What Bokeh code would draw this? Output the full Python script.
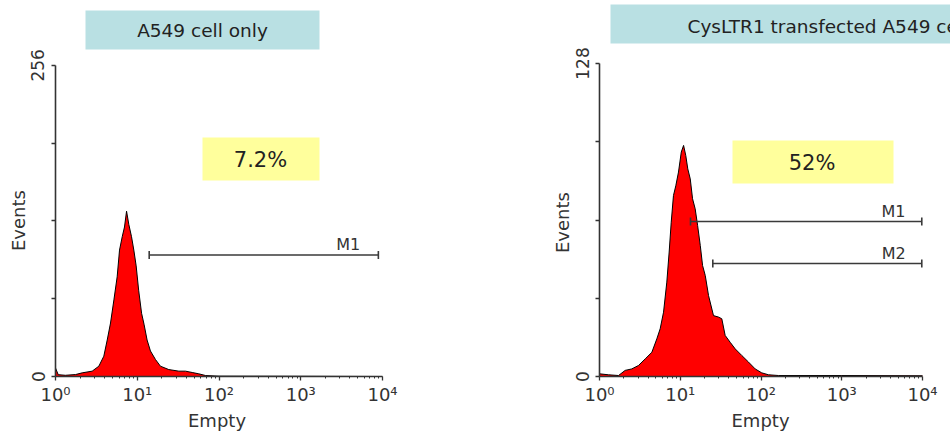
import numpy as np
from bokeh.plotting import figure
from bokeh.layouts import row
from bokeh.models import Range1d, FixedTicker, BoxAnnotation, Label, Title
from bokeh.core.properties import value
from bokeh.embed import file_html
from bokeh.resources import INLINE

# ---------------- data ----------------
titles = ["A549 cell only", "CysLTR1 transfected A549 cell"]
percent_labels = ["7.2%", "52%"]
y_max = [256, 128]
x_axis_title = "Empty"
y_axis_title = "Events"

x_tick_values = [1, 10, 100, 1000, 10000]
x_tick_labels = ["10\u2070", "10\u00b9", "10\u00b2", "10\u00b3", "10\u2074"]
x_minor_ticks = [m * d for d in (1, 10, 100, 1000) for m in range(2, 10)]

left_intensity = [1.0, 1.08, 1.32, 1.76, 2.12, 2.81, 3.39, 3.90, 4.29, 4.71,
                  5.18, 5.68, 6.07, 6.55, 6.98, 7.40, 7.89, 8.51, 9.08, 9.70,
                  10.4, 11.3, 12.1, 13.2, 14.5, 16.7, 19.2, 24.3, 32.3, 38.9,
                  47.0, 56.6, 68.4, 100, 1000, 10000]
left_counts = [7, 1.5, 1, 1.6, 3, 4.4, 8.5, 16.7, 30, 44,
               63, 82, 104, 115, 123, 136, 125, 115, 104, 91,
               71, 52, 43, 30, 21, 14, 8.5, 5.7, 4.4, 4.4,
               3.3, 2.2, 0.8, 0.3, 0.2, 0]

right_intensity = [1.0, 1.29, 1.72, 2.08, 2.51, 3.04, 3.68, 4.45, 5.13, 5.64,
                   6.21, 6.82, 7.29, 7.73, 8.24, 8.81, 9.51, 10.3, 11.0, 11.7,
                   12.4, 13.3, 14.2, 15.3, 16.4, 17.7, 18.9, 20.4, 22.4, 25.8,
                   29.8, 32.7, 36.0, 41.5, 47.9, 57.8, 70.0, 84.7, 102, 124,
                   165, 1000, 10000]
right_counts = [1.1, 0.7, 0.4, 2.5, 3.1, 4.5, 7.2, 9.9, 15.4, 19.5,
                26.3, 38.6, 50.9, 63.1, 74, 78, 83.6, 91.8, 94.5, 90.4,
                84.9, 80.8, 72.7, 68.6, 61.8, 53.6, 45.4, 41.3, 33.1, 24.9,
                24.3, 23.6, 16.8, 14.0, 11.3, 8.6, 5.9, 3.1, 1.5, 0.7,
                0.4, 0.4, 0.3]

left_gate_names = ["M1"]
left_gate_start = [14]
left_gate_end = [8900]
left_gate_level = [100]
left_gate_label_x = [3800]

right_gate_names = ["M1", "M2"]
right_gate_start = [13.4, 25.3]
right_gate_end = [9800, 9800]
right_gate_level = [63.4, 46.2]
right_gate_label_x = [4370, 4400]

FONT = "DejaVu Sans"
AX = "#333333"


def panel(width, border_left, border_bottom, x_end, y_end, ymax,
          intensity, counts, g_names, g_start, g_end, g_level, g_lx,
          title, pct, title_box, pct_box, title_pos, title_align, pct_pos,
          events_offset, empty_offset):
    p = figure(width=width, height=437, x_axis_type="log",
               x_range=Range1d(1, x_end), y_range=Range1d(0, y_end),
               output_backend="svg", toolbar_location=None,
               min_border_left=border_left, min_border_right=0,
               min_border_top=0, min_border_bottom=border_bottom)
    p.outline_line_color = None
    p.grid.visible = False
    p.background_fill_color = "white"
    p.border_fill_color = "white"

    # histogram
    p.varea(x=intensity, y1=0, y2=counts, fill_color="#ff0000")
    p.line(x=intensity, y=counts, line_color="black", line_width=1)

    # gates
    p.segment(x0=g_start, y0=g_level, x1=g_end, y1=g_level,
              line_color="#3a3a3a", line_width=1.6)
    p.scatter(x=g_start + g_end, y=g_level + g_level, marker="dash",
              angle=np.pi / 2, size=8, line_color="#3a3a3a", line_width=1.6)
    p.text(x=g_lx, y=g_level, text=g_names, text_font=value(FONT),
           text_font_size=value("16px"), text_color="#333333",
           text_align="center", text_baseline="alphabetic", y_offset=-10)

    # axes
    xa = p.xaxis[0]
    xa.ticker = FixedTicker(ticks=x_tick_values, minor_ticks=x_minor_ticks)
    xa.major_label_overrides = dict(zip(x_tick_values, x_tick_labels))
    xa.bounds = (1, 10000)
    ya = p.yaxis[0]
    ya.ticker = FixedTicker(ticks=[0, ymax],
                            minor_ticks=[ymax / 4, ymax / 2, 3 * ymax / 4])
    ya.bounds = (0, ymax)
    ya.major_label_orientation = "vertical"
    for a in (xa, ya):
        a.axis_line_color = AX
        a.axis_line_width = 1.6
        a.major_tick_line_color = AX
        a.minor_tick_line_color = AX
        a.major_tick_line_width = 1.3
        a.major_tick_in = 0
        a.minor_tick_in = 0
        a.major_label_text_font = FONT
        a.major_label_text_color = AX
    xa.major_label_text_font_size = "18px"
    ya.major_label_text_font_size = "17px"
    xa.major_tick_out = 4
    xa.minor_tick_out = 2
    xa.major_label_standoff = 3
    ya.major_tick_out = 4
    ya.minor_tick_out = 4
    ya.minor_tick_line_width = 1.3
    ya.major_label_standoff = 7

    # axis titles (placed as side titles so they can be shifted along the axis)
    p.add_layout(Title(text=y_axis_title, align="left", offset=events_offset,
                       text_font=FONT, text_font_size="18px",
                       text_font_style="normal", text_color=AX,
                       standoff=0), "left")
    p.add_layout(Title(text=x_axis_title, align="left", offset=empty_offset,
                       text_font=FONT, text_font_size="18px",
                       text_font_style="normal", text_color=AX,
                       standoff=0), "below")

    # annotation boxes
    l, r, b, t = title_box
    p.add_layout(BoxAnnotation(left=l, right=r, bottom=b, top=t,
                               left_units="screen", right_units="screen",
                               bottom_units="screen", top_units="screen",
                               fill_color="#b9e0e3", fill_alpha=1,
                               line_color=None, level="underlay"))
    l, r, b, t = pct_box
    p.add_layout(BoxAnnotation(left=l, right=r, bottom=b, top=t,
                               left_units="screen", right_units="screen",
                               bottom_units="screen", top_units="screen",
                               fill_color="#ffff9c", fill_alpha=1,
                               line_color=None, level="underlay"))
    p.add_layout(Label(x=title_pos[0], y=title_pos[1], x_units="screen",
                       y_units="screen", text=title, text_font=FONT,
                       text_font_size="18.5px", text_color="#222222",
                       text_align=title_align, text_baseline="middle"))
    p.add_layout(Label(x=pct_pos[0], y=pct_pos[1], x_units="screen",
                       y_units="screen", text=pct, text_font=FONT,
                       text_font_size="21px", text_color="#222222",
                       text_align="center", text_baseline="middle"))
    return p


p1 = panel(540, 55, 60, 10 ** (485 / 81.75), 377 / 1.21875, y_max[0],
           left_intensity, left_counts, left_gate_names, left_gate_start,
           left_gate_end, left_gate_level, left_gate_label_x,
           titles[0], percent_labels[0],
           (30, 264, 327, 366), (147, 264, 196, 239), (147, 346.5), "center",
           (205, 217), 125.5, 132.5)

p2 = panel(410, 59, 61, 10 ** (351 / 80.75), 376 / (313 / 128), y_max[1],
           right_intensity, right_counts, right_gate_names, right_gate_start,
           right_gate_end, right_gate_level, right_gate_label_x,
           titles[1], percent_labels[1],
           (11, 420, 333, 372), (133, 294, 193, 236), (88, 350.5), "left",
           (212.5, 214), 123.5, 132)

layout = row(p1, p2)
open("out.html", "w").write(file_html(layout, INLINE))
